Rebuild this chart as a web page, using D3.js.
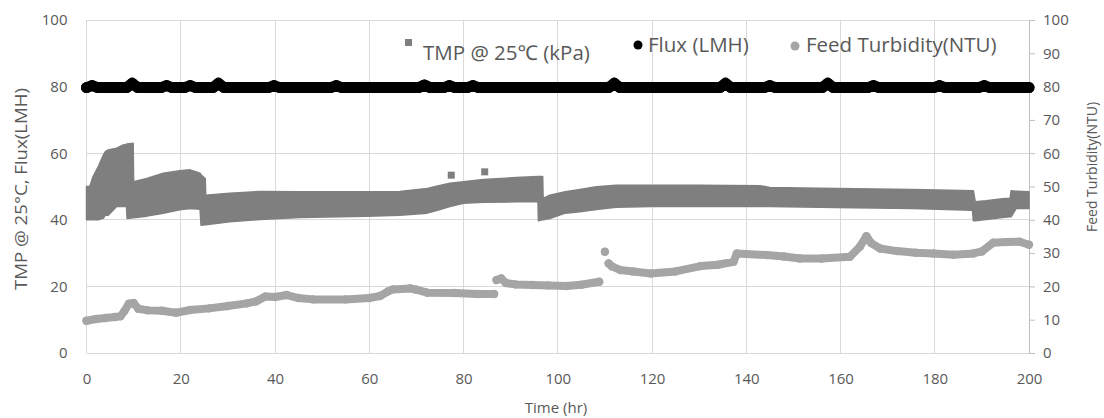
<!DOCTYPE html>
<html>
<head>
<meta charset="utf-8">
<script src="https://cdn.jsdelivr.net/npm/d3@7/dist/d3.min.js"></script>
<style>
  html, body { margin: 0; padding: 0; background: #fff; }
  svg { display: block; }
  .tick text { font-family: "Open Sans", "Noto Sans", sans-serif; font-size: 15px; fill: #595959; }
</style>
</head>
<body>
<svg id="chart" width="1104" height="418"></svg>
<script>
// ---------- data ----------
const xTicks = [0, 20, 40, 60, 80, 100, 120, 140, 160, 180, 200];
const leftTicks = [0, 20, 40, 60, 80, 100];
const rightTicks = [0, 10, 20, 30, 40, 50, 60, 70, 80, 90, 100];

// TMP @ 25°C band (lower / upper envelope of the dense square markers)
const tmpTime = [0, 0.7, 1.4, 2.5, 3.6, 4.0, 4.6, 6.4, 7.8, 8.5, 8.6, 9.9, 10.0, 12.8, 16.3, 19.8, 22, 24.1, 24.3, 25.2, 25.3, 30.4, 36.8, 45.3, 59.4, 66.5, 72.3, 74.3, 77.1, 80, 84.2, 91.2, 95.8, 95.9, 96.8, 96.9, 98.3, 101.6, 104.7, 108.2, 112.4, 120, 130, 143, 145, 159.1, 175.3, 188, 188.2, 188.6, 190.9, 194.4, 196, 196.2, 197.3, 200];
const tmpLow  = [40, 40, 40, 40, 40.5, 41.4, 41.4, 44, 44, 44, 40.4, 40.6, 40.6, 41.1, 42, 43, 43.4, 43.2, 38.4, 38.5, 38.5, 39.4, 40.1, 40.7, 41.1, 41.4, 42, 42.8, 44, 45, 45.3, 45.4, 45.4, 39.7, 40, 40, 40.4, 42, 42.4, 43.1, 43.8, 44, 44, 44, 44, 43.7, 43.4, 42.9, 39.7, 39.7, 40.1, 40.7, 40.9, 40.9, 43.4, 43.4];
const tmpHigh = [50, 50, 53, 56, 59.5, 60.5, 61, 61.5, 62.5, 62.7, 62.8, 63, 51.4, 52.4, 54, 54.7, 55, 54, 53.5, 52.4, 47.4, 48, 48.5, 48.4, 48.4, 48.5, 49.4, 50.1, 51, 51.4, 52.1, 52.7, 53, 53, 53, 46.4, 47.4, 48.4, 49.1, 49.9, 50.4, 50.4, 50.4, 50.2, 49.7, 49.4, 49.1, 48.7, 48.7, 45.4, 45.7, 46.3, 46.5, 48.7, 48.6, 48.4];
const tmpOutTime = [77.4, 84.5];
const tmpOutValue = [53.4, 54.4];

// Flux (LMH)
const fluxTime  = [0, 1.2, 2.4, 8.5, 9.7, 10.9, 15.8, 17, 18.2, 20.8, 22, 23.2, 26.8, 28, 29.2, 38.6, 39.8, 41, 51.8, 53, 54.2, 70.5, 71.7, 72.9, 75.8, 77, 78.2, 80.8, 82, 83.2, 110.8, 112, 113.2, 134.4, 135.6, 136.8, 143.8, 145, 146.2, 156.1, 157.3, 158.5, 165.8, 167, 168.2, 179.8, 181, 182.2, 189.3, 190.5, 191.7, 200];
const fluxValue = [79.7, 80.3, 79.7, 79.7, 81.0, 79.7, 79.7, 80.3, 79.7, 79.7, 80.3, 79.7, 79.7, 81.0, 79.7, 79.7, 80.3, 79.7, 79.7, 80.3, 79.7, 79.7, 80.5, 79.7, 79.7, 80.3, 79.7, 79.7, 80.3, 79.7, 79.7, 81.0, 79.7, 79.7, 81.0, 79.7, 79.7, 80.3, 79.7, 79.7, 81.0, 79.7, 79.7, 80.3, 79.7, 79.7, 80.3, 79.7, 79.7, 80.3, 79.7, 79.7];

// Feed Turbidity (NTU) – null marks a gap between runs of markers
const turbTime  = [0, 2, 4, 6, 7.2, 8, 9, 10, 11, 13, 16, 19, 22, 26, 30, 34, 36, 38, 40, 42.5, 45, 48, 55, 60, 62.3, 64, 65, 68.7, 70, 72.3, 78, 83, 86.5, null, 87, 88, 89, 91, 94.7, 98, 101.8, 105, 108.8, null, 110, null, 110.8, 111.5, 113.3, 116, 119.7, 125, 130.3, 134, 137.3, 138, 144.4, 148, 151.4, 156, 162, 164.1, 165.5, 166.5, 168.4, 172, 176, 179.7, 184, 188.2, 190, 192.4, 195, 198, 200];
const turbValue = [9.7, 10.2, 10.5, 10.8, 11, 12.5, 14.8, 15, 13.3, 12.8, 12.7, 12.1, 12.9, 13.4, 14.1, 14.9, 15.5, 17, 16.8, 17.4, 16.5, 16.1, 16.1, 16.5, 17.1, 18.5, 19.1, 19.4, 19, 18.1, 18, 17.7, 17.7, null, 21.9, 22.4, 21, 20.6, 20.4, 20.3, 20.1, 20.5, 21.4, null, 30.4, null, 26.9, 26, 24.9, 24.5, 23.9, 24.5, 26.1, 26.5, 27.4, 29.9, 29.4, 29, 28.4, 28.4, 28.9, 31.9, 35.1, 33, 31.4, 30.6, 30.1, 29.9, 29.5, 29.9, 30.5, 33.1, 33.3, 33.4, 32.5];

const legendLabels = ["TMP @ 25\u2103 (kPa)", "Flux (LMH)", "Feed Turbidity(NTU)"];

// ---------- drawing ----------
const C_TMP = "#7f7f7f", C_FLUX = "#000000", C_TURB = "#a5a5a5", C_GRID = "#d9d9d9", C_TEXT = "#595959";
const svg = d3.select("#chart");
const x = d3.scaleLinear().domain([0, 200]).range([86.5, 1029]);
const yL = d3.scaleLinear().domain([0, 100]).range([353, 20]);
const yR = d3.scaleLinear().domain([0, 100]).range([353, 20]);

// gridlines
const grid = svg.append("g");
grid.selectAll("line.h").data(leftTicks).join("line")
  .attr("x1", x(0)).attr("x2", x(200)).attr("y1", d => yL(d)).attr("y2", d => yL(d))
  .attr("stroke", C_GRID).attr("stroke-width", 1).attr("shape-rendering", "crispEdges");
grid.selectAll("line.v").data(xTicks).join("line")
  .attr("x1", d => x(d)).attr("x2", d => x(d)).attr("y1", yL(0)).attr("y2", yL(100))
  .attr("stroke", C_GRID).attr("stroke-width", 1).attr("shape-rendering", "crispEdges");

// axes
const gx = svg.append("g").attr("transform", `translate(0,${yL(0)})`)
  .call(d3.axisBottom(x).tickValues(xTicks).tickSize(0).tickPadding(20));
gx.select(".domain").remove();

const gl = svg.append("g").attr("transform", `translate(${x(0)},0)`)
  .call(d3.axisLeft(yL).tickValues(leftTicks).tickSize(0).tickPadding(19));
gl.select(".domain").remove();

const gr = svg.append("g").attr("transform", `translate(${x(200)},0)`)
  .call(d3.axisRight(yR).tickValues(rightTicks).tickSize(6).tickSizeOuter(0).tickPadding(8));
gr.select(".domain").attr("stroke", "#bfbfbf");
gr.selectAll(".tick line").attr("stroke", "#bfbfbf");

// TMP band
const tmpData = tmpTime.map((t, i) => ({ t, lo: tmpLow[i], hi: tmpHigh[i] }));
svg.append("path").datum(tmpData)
  .attr("fill", C_TMP)
  .attr("stroke", C_TMP).attr("stroke-width", 1.5).attr("stroke-linejoin", "round")
  .attr("d", d3.area().x(d => x(d.t)).y0(d => yL(d.lo)).y1(d => yL(d.hi)));
svg.selectAll("rect.tmpout").data(tmpOutTime.map((t, i) => ({ t, v: tmpOutValue[i] }))).join("rect")
  .attr("x", d => x(d.t) - 3.5).attr("y", d => yL(d.v) - 3.5).attr("width", 7).attr("height", 7)
  .attr("fill", C_TMP);

// Turbidity
const turbData = turbTime.map((t, i) => ({ t, v: turbValue[i] }));
svg.append("path").datum(turbData)
  .attr("fill", "none").attr("stroke", C_TURB).attr("stroke-width", 8)
  .attr("stroke-linecap", "round").attr("stroke-linejoin", "round")
  .attr("d", d3.line().defined(d => d.t !== null && d.v !== null).x(d => x(d.t)).y(d => yR(d.v)));
svg.selectAll("circle.turb").data(turbData.filter(d => d.t !== null)).join("circle")
  .attr("cx", d => x(d.t)).attr("cy", d => yR(d.v)).attr("r", 4.2).attr("fill", C_TURB);

// Flux
const fluxData = fluxTime.map((t, i) => ({ t, v: fluxValue[i] }));
svg.append("path").datum(fluxData)
  .attr("fill", "none").attr("stroke", C_FLUX).attr("stroke-width", 11)
  .attr("stroke-linecap", "round").attr("stroke-linejoin", "round")
  .attr("d", d3.line().x(d => x(d.t)).y(d => yL(d.v)));
svg.selectAll("circle.flux").data(fluxData).join("circle")
  .attr("cx", d => x(d.t)).attr("cy", d => yL(d.v)).attr("r", 5.5).attr("fill", C_FLUX);

// axis titles
const titleFont = "'Open Sans', 'Noto Sans', sans-serif";
svg.append("text").attr("transform", `translate(27,189) rotate(-90)`)
  .attr("text-anchor", "middle").attr("font-family", titleFont).attr("font-size", 16).attr("fill", C_TEXT)
  .attr("textLength", 202).attr("lengthAdjust", "spacingAndGlyphs")
  .text("TMP @ 25\u00B0C,  Flux(LMH)");
svg.append("text").attr("transform", `translate(1097,167) rotate(-90)`)
  .attr("text-anchor", "middle").attr("font-family", titleFont).attr("font-size", 14).attr("fill", C_TEXT)
  .text("Feed Turbidity(NTU)");
svg.append("text").attr("x", 556).attr("y", 413)
  .attr("text-anchor", "middle").attr("font-family", titleFont).attr("font-size", 15).attr("fill", C_TEXT)
  .text("Time (hr)");

// legend
const lg = svg.append("g").attr("font-family", titleFont).attr("font-size", 20.5).attr("fill", C_TEXT);
lg.append("rect").attr("x", 405).attr("y", 39).attr("width", 7).attr("height", 7).attr("fill", C_TMP);
lg.append("text").attr("x", 423).attr("y", 60).text(legendLabels[0]);
lg.append("circle").attr("cx", 638).attr("cy", 45).attr("r", 4.5).attr("fill", C_FLUX);
lg.append("text").attr("x", 648).attr("y", 52).text(legendLabels[1]);
lg.append("circle").attr("cx", 795).attr("cy", 46).attr("r", 4.5).attr("fill", C_TURB);
lg.append("text").attr("x", 806).attr("y", 52).text(legendLabels[2]);
</script>
</body>
</html>
